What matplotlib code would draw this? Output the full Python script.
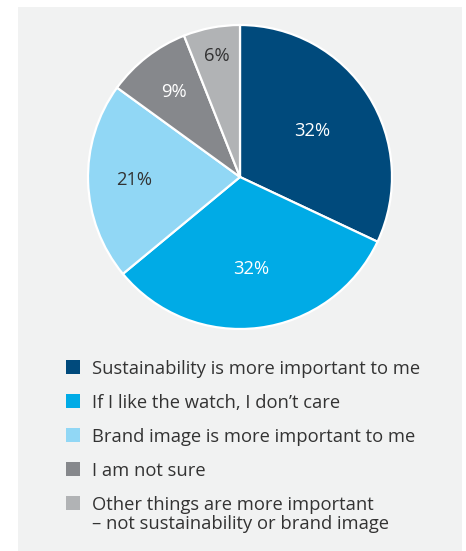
import matplotlib
matplotlib.use("Agg")
import matplotlib.pyplot as plt
import matplotlib.patches as mpatches
import numpy as np

plt.rcParams['font.family'] = ['Open Sans', 'DejaVu Sans']

# --- data ---
categories = [
    "Sustainability is more important to me",
    "If I like the watch, I don\u2019t care",
    "Brand image is more important to me",
    "I am not sure",
    "Other things are more important\n\u2013 not sustainability or brand image",
]
shares = [32, 32, 21, 9, 6]
pct_labels = ["32%", "32%", "21%", "9%", "6%"]

colors = ["#004a7c", "#00abe6", "#91d7f5", "#86888c", "#b1b3b5"]
label_colors = ["white", "white", "#333333", "white", "#333333"]
label_dist = [0.56, 0.61, 0.70, 0.71, 0.81]

W, H = 466, 551
fig = plt.figure(figsize=(W / 100, H / 100), dpi=100, facecolor="white")

# grey panel behind everything
fig.patches.append(mpatches.Rectangle((18 / W, 0), (462 - 18) / W, (H - 7) / H,
                                      transform=fig.transFigure, facecolor="#f1f2f2",
                                      edgecolor="none", zorder=-10))

# pie axes: centre (240,177), radius 152 px
cx, cy, r = 240, 177, 152
ax = fig.add_axes([(cx - r) / W, (H - cy - r) / H, 2 * r / W, 2 * r / H])
ax.set_facecolor("none")
wedges, _ = ax.pie(shares, colors=colors, startangle=90, counterclock=False,
                   radius=1, wedgeprops=dict(edgecolor="white", linewidth=1.6))
ax.set_xlim(-1.0, 1.0)
ax.set_ylim(-1.0, 1.0)
ax.set_aspect("equal")
ax.axis("off")

for w, txt, c, d in zip(wedges, pct_labels, label_colors, label_dist):
    mid = np.deg2rad((w.theta1 + w.theta2) / 2)
    ax.text(d * np.cos(mid), d * np.sin(mid), txt, ha="center", va="center",
            color=c, fontsize=13.2)

# legend drawn by hand so the marker lines up with the first text line
row0, drow = 367, 34
for i, (lab, col) in enumerate(zip(categories, colors)):
    yc = row0 + i * drow
    fig.patches.append(mpatches.Rectangle((66 / W, (H - yc - 7) / H), 14 / W, 14 / H,
                                          transform=fig.transFigure, facecolor=col,
                                          edgecolor="none", zorder=2))
    fig.text(92 / W, (H - yc + 7) / H, lab, ha="left", va="top", fontsize=13.2,
             color="#333333", linespacing=1.1)

fig.savefig("out.png", dpi=100, facecolor=fig.get_facecolor())
